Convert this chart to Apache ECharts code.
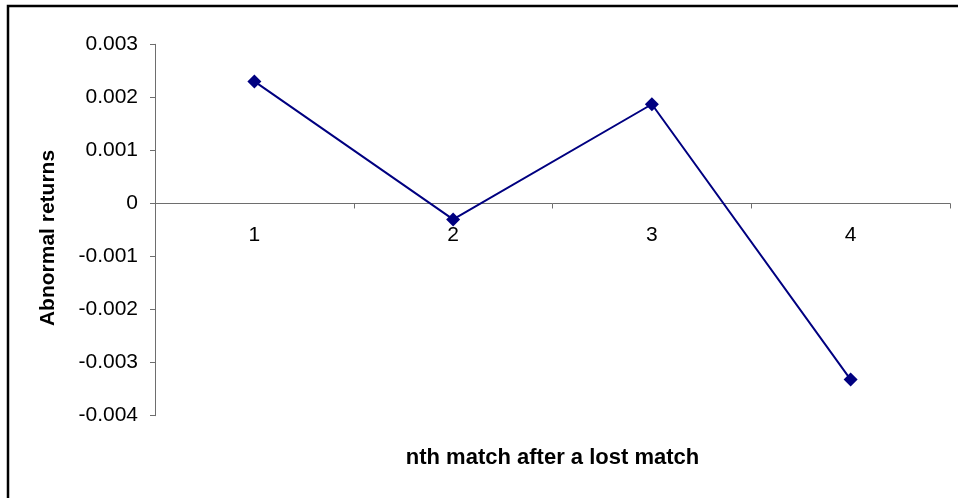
<!DOCTYPE html>
<html>
<head>
<meta charset="utf-8">
<script src="https://cdn.jsdelivr.net/npm/echarts@6/dist/echarts.min.js"></script>
<style>
  html, body { margin: 0; padding: 0; background: #fff; }
  #chart { width: 958px; height: 498px; }
</style>
</head>
<body>
<div id="chart"></div>
<script>
// Match number after a lost match, and the abnormal return measured for it
const categories = ['1', '2', '3', '4'];
const abnormalReturns = [0.0023, -0.0003, 0.00187, -0.00332];

// Value axis range and step
const yMin = -0.004;
const yMax = 0.003;
const yStep = 0.001;

const xTitle = 'nth match after a lost match';
const yTitle = 'Abnormal returns';

const FONT = '"Liberation Sans", Arial, sans-serif';
const AXIS_GREY = '#6e6e6e';

// Plot box
const GRID_TOP = 44.3;
const GRID_BOTTOM = 82.3;
const GRID_H = 498 - GRID_TOP - GRID_BOTTOM;
// Lift the category axis from the bottom edge up to the value 0
const zeroLift = GRID_H * (0 - yMin) / (yMax - yMin);

const chart = echarts.init(document.getElementById('chart'), null, { renderer: 'canvas' });

chart.setOption({
  backgroundColor: '#ffffff',
  animation: false,
  graphic: [{
    type: 'rect',
    silent: true,
    shape: { x: 8, y: 6, width: 980, height: 520 },
    style: { fill: 'none', stroke: '#000', lineWidth: 2.5 }
  }],
  grid: { left: 155, right: 8, top: GRID_TOP, bottom: GRID_BOTTOM, containLabel: false, outerBoundsMode: 'none' },
  xAxis: {
    type: 'category',
    data: categories,
    boundaryGap: true,
    position: 'bottom',
    offset: -zeroLift,
    name: xTitle,
    nameLocation: 'middle',
    nameGap: 243,
    nameTextStyle: { fontFamily: FONT, fontWeight: 'bold', fontSize: 22, color: '#000' },
    axisLine: { onZero: false, lineStyle: { color: AXIS_GREY, width: 1 } },
    axisTick: { show: true, alignWithLabel: false, length: 5, lineStyle: { color: AXIS_GREY } },
    axisLabel: { fontFamily: FONT, fontSize: 21, color: '#000', margin: 21 },
    splitLine: { show: false }
  },
  yAxis: {
    type: 'value',
    min: yMin,
    max: yMax,
    interval: yStep,
    name: yTitle,
    nameLocation: 'middle',
    nameRotate: 90,
    nameGap: 96,
    nameTextStyle: { fontFamily: FONT, fontWeight: 'bold', fontSize: 21, color: '#000', padding: [0, 16, 0, 0] },
    axisLine: { show: true, onZero: false, lineStyle: { color: AXIS_GREY, width: 1 } },
    axisTick: { show: true, length: 5, lineStyle: { color: AXIS_GREY } },
    axisLabel: {
      fontFamily: FONT, fontSize: 21, color: '#000', margin: 17,
      formatter: v => (Math.abs(v) < 1e-9 ? '0' : v.toFixed(3))
    },
    splitLine: { show: false }
  },
  series: [{
    type: 'line',
    data: abnormalReturns,
    symbol: 'diamond',
    symbolSize: 14,
    showAllSymbol: true,
    lineStyle: { color: '#000080', width: 2 },
    itemStyle: { color: '#000080' },
    label: { show: false }
  }]
});
</script>
</body>
</html>
